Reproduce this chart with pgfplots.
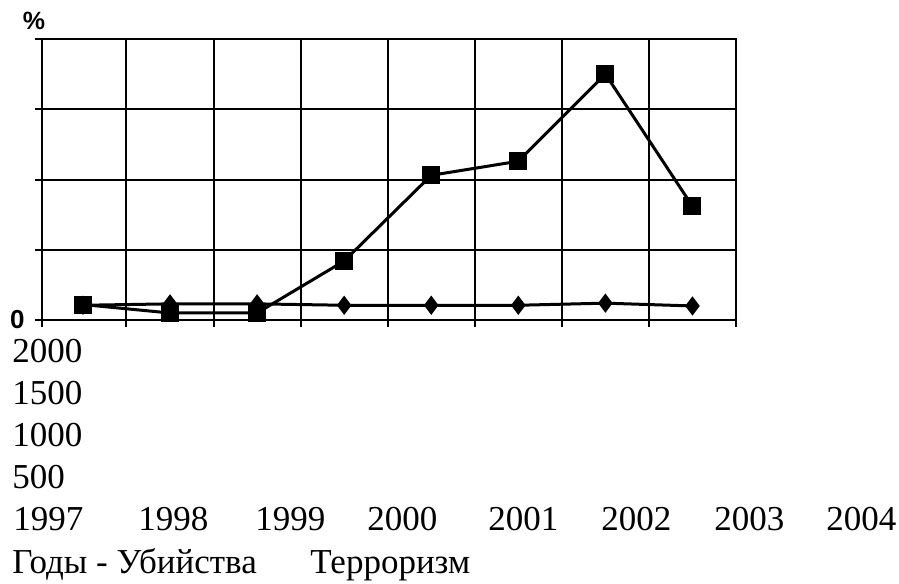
\documentclass[border=0pt]{standalone}
\usepackage{fontspec}
\setmainfont{Liberation Serif}
\setsansfont{Liberation Sans}
\usepackage{pgfplots}
\pgfplotsset{compat=1.18}
\begin{document}
\begin{tikzpicture}[x=1bp,y=1bp]
\path[use as bounding box] (0,0) rectangle (449.5,-291.5);
\begin{axis}[
  at={(21bp,-160bp)}, anchor=south west,
  scale only axis, width=347bp, height=140.5bp,
  xmin=-0.47, xmax=7.5, ymin=0, ymax=2000,
  xtick={-0.47,0.5,1.5,2.5,3.5,4.5,5.5,6.5,7.5},
  xticklabels={},
  ytick={0,500,1000,1500,2000},
  yticklabels={0,,,,},
  xtick pos=bottom, ytick pos=left,
  xmajorgrids, ymajorgrids,
  tick align=outside, major tick length=3.5bp,
  tick style={black, line width=1bp},
  grid style={black, line width=1bp},
  axis line style={black, line width=1bp},
  /pgf/number format/assume math mode=true,
  yticklabel style={font=\sffamily\bfseries\fontsize{13bp}{15bp}\selectfont, inner sep=1bp, xshift=-4bp},
  clip=false,
]
\addplot[black, line width=1.5bp, mark=diamond*, mark size=3.6bp, mark options={solid, fill=black}]
  coordinates {(0,105)(1,115)(2,115)(3,105)(4,105)(5,105)(6,120)(7,100)};
\addplot[black, line width=1.5bp, mark=square*, mark size=3.75bp, mark options={solid, fill=black}]
  coordinates {(0,110)(1,50)(2,50)(3,420)(4,1030)(5,1130)(6,1750)(7,810)};
\end{axis}
\node[font=\sffamily\bfseries\fontsize{12.5bp}{14bp}\selectfont, inner sep=0] at (17,-10.5) {\%};
\begin{scope}[every node/.style={anchor=base west, inner sep=0, font=\fontsize{17.5bp}{21bp}\selectfont}]
\node at (6,-181) {2000};
\node at (6,-202.1) {1500};
\node at (6,-223.2) {1000};
\node at (6,-244.3) {500};
\node at (6.5,-265.4) {1997};
\node at (69,-265.4) {1998};
\node at (127.5,-265.4) {1999};
\node at (183.5,-265.4) {2000};
\node at (244,-265.4) {2001};
\node at (300.5,-265.4) {2002};
\node at (357,-265.4) {2003};
\node at (413,-265.4) {2004};
\node at (6,-286.5) {Годы - Убийства};
\node at (155,-286.5) {Терроризм};
\end{scope}
\end{tikzpicture}
\end{document}
